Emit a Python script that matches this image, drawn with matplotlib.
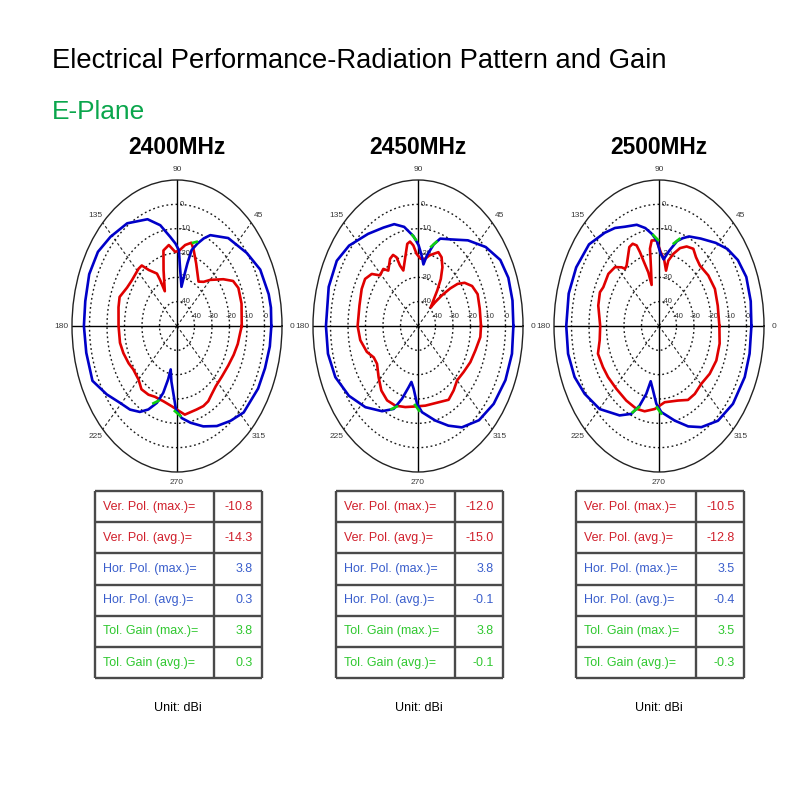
import numpy as np
import matplotlib
matplotlib.use("Agg")
import matplotlib.pyplot as plt
from matplotlib import font_manager

# ---- data (angle in degrees, gain in dBi) ----
FREQS = ["2400MHz", "2450MHz", "2500MHz"]

HOR_2400_ANG = [0, 8, 14, 26, 37, 51, 63, 67, 71, 75, 77, 79, 81, 86.5, 88, 91.5, 96, 103, 111, 124,
                136, 146, 157, 169, 180, 192, 205, 215, 224, 232, 239, 244.5, 250, 254, 257, 258.6,
                262, 265.6, 269, 274, 281, 290, 299, 308, 317, 331, 341, 351]
HOR_2400_DB = [3.9, 4.2, 4.0, 2.9, -0.1, -3.5, -8.1, -10.9, -14.2, -17.7, -23.6, -29.5, -33.7, -24.3,
               -18.8, -16.1, -13.2, -7.5, -3.0, 0.9, 2.8, 4.5, 4.5, 3.4, 3.2, 3.0, 3.3, -1.0, -4.6,
               -6.4, -8.8, -12.0, -16.4, -21.4, -27.5, -31.8, -27.0, -22.4, -15.7, -12.1, -9.5, -6.1,
               -3.0, -0.5, 2.1, 3.0, 3.2, 3.7]
VER_2400_ANG = [0, 14, 24, 30, 36, 45, 50, 56, 67, 73, 76.5, 82, 88, 92, 98, 104, 108.5, 116, 117,
                118, 125, 129, 133, 144, 151, 160, 167, 180, 192, 200, 209, 215.5, 225, 232, 240,
                246.6, 256, 264.7, 269.7, 277, 288, 294.6, 300, 305, 312, 321, 331, 340, 348, 355.5]
VER_2400_DB = [-13.0, -12.0, -11.6, -13.0, -17.3, -23.2, -26.3, -28.0, -22.0, -17.4, -14.8, -16.4,
               -19.1, -19.5, -16.4, -18.0, -25.8, -34.1, -28.9, -25.6, -21.9, -18.0, -17.8, -18.1,
               -17.4, -15.1, -15.7, -16.6, -16.7, -17.4, -18.4, -19.3, -18.9, -17.0, -17.4, -18.3,
               -18.1, -16.9, -15.7, -13.3, -13.9, -13.8, -14.3, -15.6, -16.8, -17.0, -16.5, -15.5,
               -14.5, -13.8]
TOT_2400_ANG = [[72, 75], [247, 251], [268, 273]]
TOT_2400_DB = [[-13.6, -14.6], [-15.5, -17.5], [-15.0, -13.0]]

HOR_2450_ANG = [0, 11, 21, 30, 40, 51, 62, 70.5, 75, 80, 83, 86, 89.4, 94, 101, 108, 116, 127, 140,
                150, 162.5, 180, 192.5, 204, 216, 228, 239.6, 247.8, 253, 258, 260.7, 264.5, 269,
                273.7, 284.3, 293, 301, 312, 323.5, 336, 348]
HOR_2450_DB = [4.5, 5.0, 5.3, 4.3, 0.5, -4.7, -9.7, -11.9, -15.3, -20.5, -24.5, -20.8, -16.8, -13.0,
               -8.5, -6.0, -5.0, -2.6, 1.4, 3.6, 3.5, 2.6, 2.7, 1.7, -1.2, -5.1, -9.4, -13.2, -18.7,
               -24.3, -26.7, -24.1, -18.0, -14.5, -9.9, -5.5, -1.4, 2.1, 3.8, 4.7, 4.9]
VER_2450_ANG = [0, 11.5, 21, 28, 33.7, 37.4, 40, 42.8, 45, 46.6, 50, 53, 56, 60, 64.5, 69, 73.5, 77.4,
                81.7, 86.9, 91.5, 94.6, 97.5, 100.3, 105, 110.2, 112.5, 113.5, 116, 120, 126.7,
                130.2, 136.3, 141, 147.4, 154.7, 165.8, 180, 190, 200, 207, 213.6, 223, 231.7, 240,
                248.4, 257.7, 267.4, 277.3, 290.7, 300, 307.6, 315, 324, 333.6, 343, 352.7]
VER_2450_DB = [-14.0, -14.0, -13.5, -15.0, -18.0, -21.5, -26.0, -31.6, -36.3, -39.4, -36.4, -31.7,
               -26.7, -22.1, -18.7, -17.5, -19.1, -20.3, -22.1, -22.3, -20.4, -16.8, -15.0, -15.7,
               -21.4, -25.7, -23.1, -19.2, -17.5, -18.1, -21.6, -19.3, -19.9, -16.0, -14.1, -14.4,
               -15.5, -15.5, -16.5, -18.9, -21.6, -21.9, -19.2, -16.2, -14.7, -14.8, -15.9, -16.9,
               -17.0, -16.5, -15.0, -16.6, -18.4, -17.8, -16.6, -15.7, -14.1]
TOT_2450_ANG = [[73, 77], [92, 95], [246, 250], [267, 271]]
TOT_2450_DB = [[-13.8, -16.5], [-14.5, -12.5], [-12.6, -14.8], [-17.5, -15.2]]

HOR_2500_ANG = [0, 11, 22, 31, 39, 46.5, 56.5, 65, 69.5, 73.5, 79.5, 84.5, 88.5, 92, 96, 101, 107,
                115.5, 122, 129, 140, 153, 165.5, 180, 192.4, 203.5, 213.3, 225.2, 238.5, 246.4,
                251.3, 255.4, 258.2, 262.7, 267.3, 272.1, 283, 292, 300.2, 310.9, 322.9, 336.8, 347.6]
HOR_2500_DB = [2.8, 3.4, 3.8, 2.6, 0.3, -2.9, -6.9, -9.4, -11.5, -13.6, -18.7, -22.5, -20.0, -15.0,
               -12.0, -9.0, -6.5, -4.8, -2.5, -0.7, 2.2, 3.1, 3.3, 3.0, 3.2, 2.6, 0.8, -1.9, -6.9,
               -10.6, -15.5, -21.2, -26.8, -23.3, -18.0, -14.6, -10.1, -5.5, -1.9, 1.5, 3.0, 3.3, 3.0]
VER_2500_ANG = [0, 14, 25.5, 36.4, 46.7, 53.2, 58.3, 64.2, 69.4, 74.5, 78.8, 80, 84, 88.2, 92.2, 96.8,
                99.2, 101, 104, 105.5, 108.4, 109.7, 111.1, 114, 117.6, 126.6, 129.6, 131.5, 136.1,
                143.5, 153.4, 157.7, 166.4, 180, 189.8, 198.1, 207.8, 215.8, 226.6, 238.6, 249.2,
                256.8, 265.9, 275.9, 289.5, 298.6, 306.2, 315.5, 325.9, 336.6, 348.2]
VER_2500_DB = [-15.5, -15.4, -14.6, -15.0, -15.9, -14.7, -12.7, -13.7, -15.8, -19.2, -22.6, -26.9,
               -22.3, -19.6, -14.8, -14.6, -17.8, -26.1, -32.6, -27.1, -21.6, -17.8, -14.5, -13.0,
               -13.4, -19.0, -19.5, -17.8, -15.1, -14.0, -14.4, -13.5, -14.3, -16.4, -15.6, -13.3,
               -13.8, -14.1, -14.5, -14.1, -13.6, -14.0, -15.8, -18.5, -17.5, -15.4, -15.4, -16.1,
               -15.0, -14.3, -14.6]
TOT_2500_ANG = [[72, 76], [91, 95], [247, 251], [268, 272]]
TOT_2500_DB = [[-12.4, -15.0], [-14.6, -12.5], [-11.5, -14.8], [-16.5, -14.0]]

ROW_LABELS = ["Ver. Pol. (max.)=", "Ver. Pol. (avg.)=", "Hor. Pol. (max.)=",
              "Hor. Pol. (avg.)=", "Tol. Gain (max.)=", "Tol. Gain (avg.)="]
GAIN_2400 = [-10.8, -14.3, 3.8, 0.3, 3.8, 0.3]
GAIN_2450 = [-12.0, -15.0, 3.8, -0.1, 3.8, -0.1]
GAIN_2500 = [-10.5, -12.8, 3.5, -0.4, 3.5, -0.3]

ANGLE_LABELS = ["0", "45", "90", "135", "180", "225", "270", "315"]
RINGS = [-40, -30, -20, -10, 0]

# ---- styling ----
RED, BLUE, GREEN = "#e00000", "#0000c8", "#10d010"
TXT_RED, TXT_BLUE, TXT_GREEN = "#d0202c", "#3a5ecc", "#30c830"
ROW_COLORS = [TXT_RED, TXT_RED, TXT_BLUE, TXT_BLUE, TXT_GREEN, TXT_GREEN]

names = {f.name for f in font_manager.fontManager.ttflist}
NARROW = "Liberation Sans Narrow" if "Liberation Sans Narrow" in names else "Liberation Sans"
SQUEEZE = 1.0 if NARROW == "Liberation Sans Narrow" else 0.82
plt.rcParams["font.family"] = ["Liberation Sans", "DejaVu Sans"]

fig = plt.figure(figsize=(8, 8), dpi=100)
bg = fig.add_axes([0, 0, 1, 1])
bg.set_xlim(0, 800)
bg.set_ylim(800, 0)
bg.axis("off")

bg.text(52, 68, "Electrical Performance-Radiation Pattern and Gain", family=NARROW,
        fontsize=24 * SQUEEZE, va="baseline", ha="left", color="black")
bg.text(52, 119, "E-Plane", family=NARROW, fontsize=23 * SQUEEZE, va="baseline",
        ha="left", color="#0aa64c")

centers_x = [177, 418, 659]
hw, hh, cy = 105, 146, 326

plots = [
    (HOR_2400_ANG, HOR_2400_DB, VER_2400_ANG, VER_2400_DB, TOT_2400_ANG, TOT_2400_DB, GAIN_2400),
    (HOR_2450_ANG, HOR_2450_DB, VER_2450_ANG, VER_2450_DB, TOT_2450_ANG, TOT_2450_DB, GAIN_2450),
    (HOR_2500_ANG, HOR_2500_DB, VER_2500_ANG, VER_2500_DB, TOT_2500_ANG, TOT_2500_DB, GAIN_2500),
]
tables_x = [(95, 214, 262), (336, 455, 503), (576, 696, 744)]

full = np.linspace(0, 2 * np.pi, 721)

for i, (freq, cx) in enumerate(zip(FREQS, centers_x)):
    hor_a, hor_d, ver_a, ver_d, tot_a, tot_d, gains = plots[i]

    bg.text(cx, 154, freq, family=NARROW, fontsize=20 * SQUEEZE, fontweight="bold",
            ha="center", va="baseline")

    ax = fig.add_axes([(cx - hw) / 800, (800 - cy - hh) / 800, 2 * hw / 800, 2 * hh / 800],
                      projection="polar")
    ax.set_aspect("auto")
    ax.set_ylim(-50, 10)
    ax.grid(False)
    ax.set_yticks([])
    ax.set_xticks(np.deg2rad(np.arange(0, 360, 45)))
    ax.set_xticklabels(ANGLE_LABELS)
    ax.set_xticks(np.deg2rad(np.arange(0, 360, 5)), minor=True)
    ax.tick_params(axis="x", which="major", direction="in", length=5, width=0.8,
                   labelsize=6, labelcolor="#3a3a3a", pad=0.5)
    ax.tick_params(axis="x", which="minor", direction="in", length=3, width=0.7)
    ax.spines["polar"].set_linewidth(1.0)
    ax.spines["polar"].set_color("#222222")

    for r in RINGS:
        ax.plot(full, np.full_like(full, r), ls=(0, (1.3, 2.0)), color="#1a1a1a", lw=1.0, zorder=1)
    for a in range(45, 360, 90):
        t = np.deg2rad(a)
        ax.plot([t, t], [-50, 10], ls=(0, (2.5, 2.2)), color="#222222", lw=0.8, zorder=1)
    for a in range(0, 360, 90):
        t = np.deg2rad(a)
        ax.plot([t, t], [-50, 10], color="black", lw=1.0, zorder=1)

    for r in RINGS:
        ax.annotate(str(r), xy=(0, r), xytext=(1, 4), textcoords="offset points",
                    ha="center", va="bottom", fontsize=5.5, color="#333333")
        ax.annotate(str(r), xy=(np.pi / 2, r), xytext=(2, 0), textcoords="offset points",
                    ha="left", va="center", fontsize=5.5, color="#333333")

    va_ = np.deg2rad(np.append(ver_a, ver_a[0] + 360))
    vd_ = np.append(ver_d, ver_d[0])
    ha_ = np.deg2rad(np.append(hor_a, hor_a[0] + 360))
    hd_ = np.append(hor_d, hor_d[0])
    ax.plot(va_, vd_, color=RED, lw=1.9, zorder=3, solid_joinstyle="round")
    ax.plot(ha_, hd_, color=BLUE, lw=1.9, zorder=4, solid_joinstyle="round")
    for seg_a, seg_d in zip(tot_a, tot_d):
        ax.plot(np.deg2rad(seg_a), seg_d, color=GREEN, lw=1.9, zorder=5)

    # table
    left, mid, right = tables_x[i]
    top, row_h = 491, 31.2
    ys = [top + k * row_h for k in range(7)]
    bg.hlines(ys, left, right, color="#4a4a4a", lw=1.7)
    bg.vlines([left, mid, right], top, ys[-1], color="#4a4a4a", lw=1.7)
    for k, (lab, val) in enumerate(zip(ROW_LABELS, gains)):
        yc = top + (k + 0.5) * row_h
        bg.text(left + 8, yc, lab, family=NARROW, fontsize=11 * SQUEEZE, color=ROW_COLORS[k],
                ha="left", va="center")
        bg.text(right - 9, yc, f"{val:.1f}", family=NARROW, fontsize=11 * SQUEEZE,
                color=ROW_COLORS[k], ha="right", va="center")
    bg.text((left + right) / 2 - 1, 708, "Unit: dBi", family=NARROW, fontsize=11 * SQUEEZE,
            ha="center", va="center", color="black")

fig.savefig("out.png", dpi=100)
